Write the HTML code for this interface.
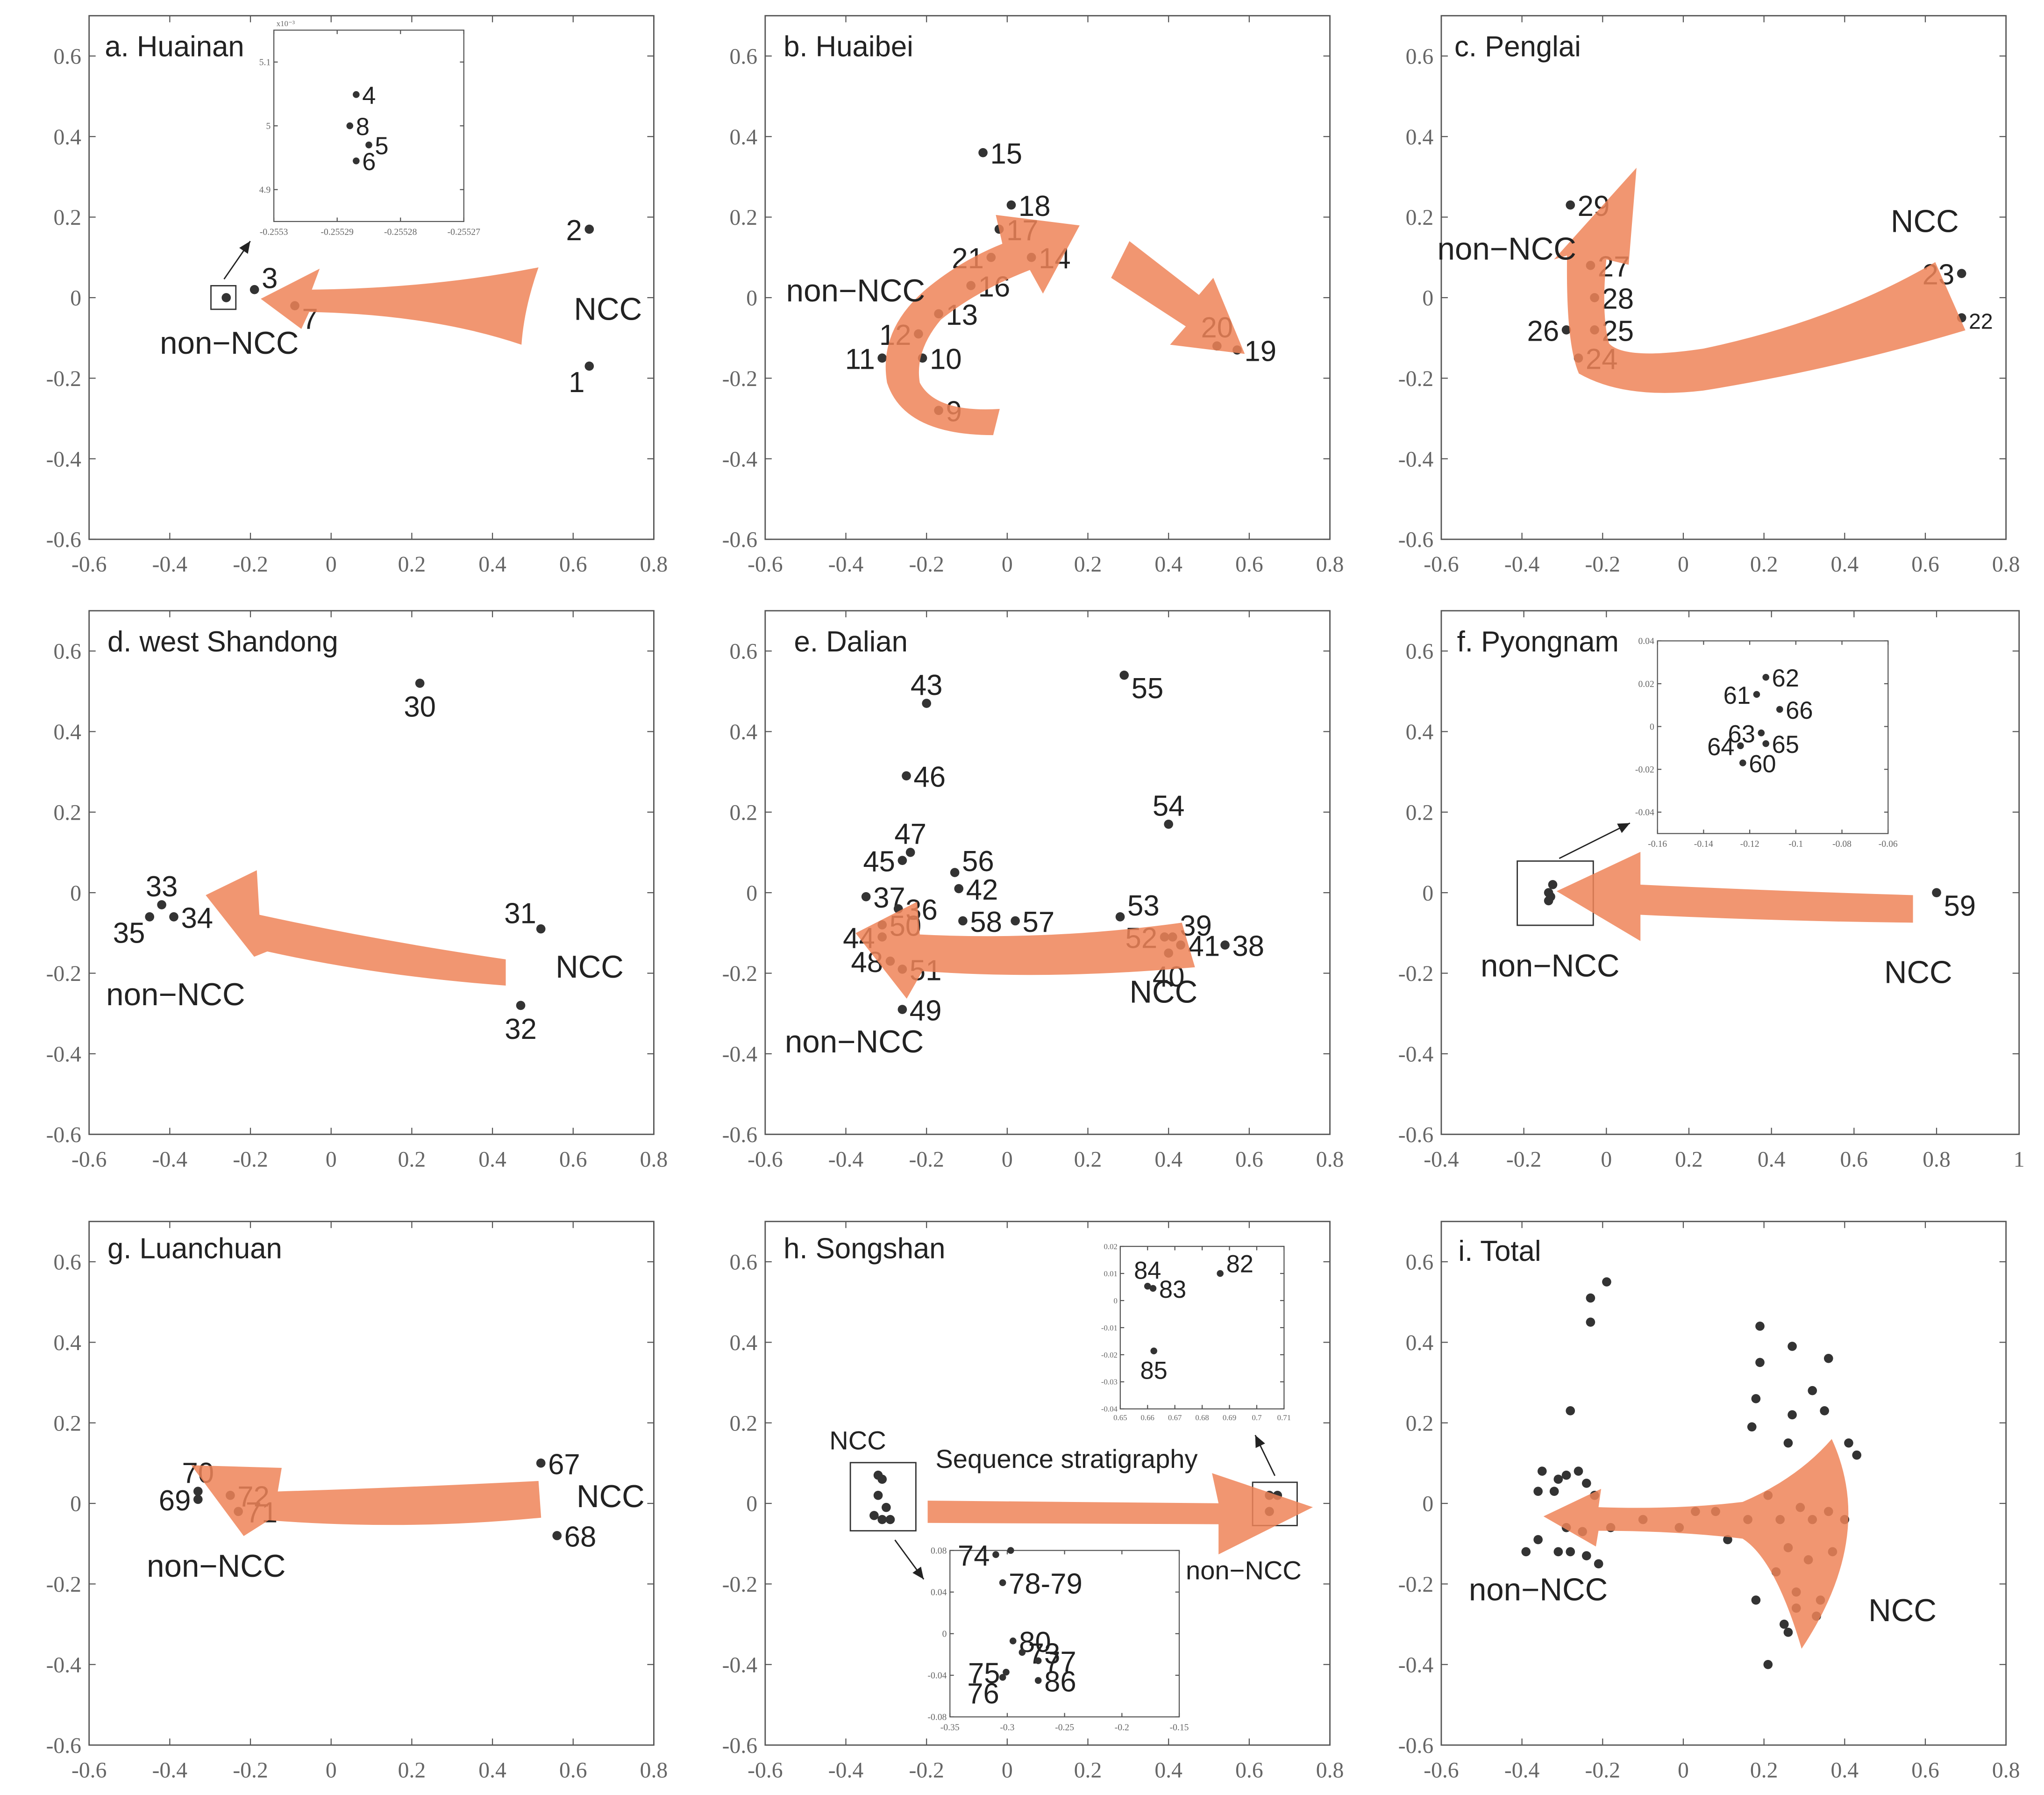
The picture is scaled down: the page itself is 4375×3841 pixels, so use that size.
<!DOCTYPE html>
<html><head><meta charset="utf-8"><style>
html,body{margin:0;padding:0;background:#fff;}
svg{display:block;}
text{font-family:"Liberation Sans",sans-serif;}
.tk{font-family:"Liberation Serif",serif;fill:#666;}
</style></head><body>
<svg id="fig" xmlns="http://www.w3.org/2000/svg" width="4375" height="3841" viewBox="0 0 1560 1369.6" preserveAspectRatio="none"></svg>
<script>
// ---------- DATA ----------
const mainXTicks=[-0.6,-0.4,-0.2,0,0.2,0.4,0.6,0.8];
const mainXTickLabels=["-0.6","-0.4","-0.2","0","0.2","0.4","0.6","0.8"];
const fXTicks=[-0.4,-0.2,0,0.2,0.4,0.6,0.8,1];
const fXTickLabels=["-0.4","-0.2","0","0.2","0.4","0.6","0.8","1"];
const mainYTicks=[-0.6,-0.4,-0.2,0,0.2,0.4,0.6];
const mainYTickLabels=["-0.6","-0.4","-0.2","0","0.2","0.4","0.6"];

const aIds=["1","2","3","7",""];
const aX=[0.64,0.64,-0.19,-0.09,-0.26];
const aY=[-0.17,0.17,0.02,-0.02,0.0];
const aSide=["lb","l","ru","rb","r"];
const aInIds=["4","8","5","6"];
const aInX=[-0.255287,-0.255288,-0.255285,-0.255287];
const aInY=[5.049,5.0,4.97,4.945];
const aInXTicks=[-0.2553,-0.25529,-0.25528,-0.25527];
const aInXTickLabels=["-0.2553","-0.25529","-0.25528","-0.25527"];
const aInYTicks=[4.9,5.0,5.1];
const aInYTickLabels=["4.9","5","5.1"];

const bIds=["15","18","17","21","14","16","13","12","11","10","9","20","19"];
const bX=[-0.06,0.01,-0.02,-0.04,0.06,-0.09,-0.17,-0.22,-0.31,-0.21,-0.17,0.52,0.57];
const bY=[0.36,0.23,0.17,0.10,0.10,0.03,-0.04,-0.09,-0.15,-0.15,-0.28,-0.12,-0.13];
const bSide=["r","r","r","l","r","r","r","l","l","r","r","t","r"];

const cIds=["29","27","28","26","25","24","23","22"];
const cX=[-0.28,-0.23,-0.22,-0.29,-0.22,-0.26,0.69,0.69];
const cY=[0.23,0.08,0.0,-0.08,-0.08,-0.15,0.06,-0.05];
const cSide=["r","r","r","l","r","r","l","rs"];

const dIds=["30","33","35","34","31","32"];
const dX=[0.22,-0.42,-0.45,-0.39,0.52,0.47];
const dY=[0.52,-0.03,-0.06,-0.06,-0.09,-0.28];
const dSide=["b","t","lb","r","lu","b"];

const eIds=["43","55","46","54","47","45","56","42","37","36","50","58","57","53","39","52","41","40","38","44","48","51","49"];
const eX=[-0.20,0.29,-0.25,0.40,-0.24,-0.26,-0.13,-0.12,-0.35,-0.27,-0.31,-0.11,0.02,0.28,0.41,0.39,0.43,0.40,0.54,-0.31,-0.29,-0.26,-0.26];
const eY=[0.47,0.54,0.29,0.17,0.10,0.08,0.05,0.01,-0.01,-0.04,-0.08,-0.07,-0.07,-0.06,-0.11,-0.11,-0.13,-0.15,-0.13,-0.11,-0.17,-0.19,-0.29];
const eSide=["t","rb","r","t","t","l","ru","r","r","r","r","r","r","ru","ru","l","r","b","r","l","l","r","r"];

const fIds=["59"];
const fX=[0.80];
const fY=[0.0];
const fSide=["rb"];
const fClX=[-0.14,-0.13,-0.135,-0.14];
const fClY=[0.0,0.02,-0.01,-0.02];
const fInIds=["62","61","66","63","65","64","60"];
const fInX=[-0.113,-0.117,-0.107,-0.115,-0.113,-0.124,-0.123];
const fInY=[0.023,0.015,0.008,-0.003,-0.008,-0.009,-0.017];
const fInXTicks=[-0.16,-0.14,-0.12,-0.1,-0.08,-0.06];
const fInXTickLabels=["-0.16","-0.14","-0.12","-0.1","-0.08","-0.06"];
const fInYTicks=[-0.04,-0.02,0,0.02,0.04];
const fInYTickLabels=["-0.04","-0.02","0","0.02","0.04"];

const gIds=["67","68","70","69","72","71"];
const gX=[0.52,0.56,-0.33,-0.33,-0.25,-0.23];
const gY=[0.10,-0.08,0.03,0.01,0.02,-0.02];
const gSide=["r","r","t","l","r","r"];

const hNccX=[-0.32,-0.31,-0.32,-0.30,-0.31,-0.29,-0.33];
const hNccY=[0.07,0.06,0.02,-0.01,-0.04,-0.04,-0.03];
const hNonX=[0.65,0.67,0.65];
const hNonY=[0.02,0.02,-0.02];
const hTopIds=["82","84","83","85"];
const hTopX=[0.6866,0.66,0.662,0.6623];
const hTopY=[0.01,0.0053,0.0045,-0.0186];
const hTopSide=["ru","t","r","b"];
const hTopXTicks=[0.65,0.66,0.67,0.68,0.69,0.7,0.71];
const hTopXTickLabels=["0.65","0.66","0.67","0.68","0.69","0.7","0.71"];
const hTopYTicks=[-0.04,-0.03,-0.02,-0.01,0,0.01,0.02];
const hTopYTickLabels=["-0.04","-0.03","-0.02","-0.01","0","0.01","0.02"];
const hBotIds=["74","","78-79","80","73","77","75","76","86"];
const hBotX=[-0.310,-0.297,-0.304,-0.295,-0.287,-0.273,-0.301,-0.304,-0.273];
const hBotY=[0.076,0.08,0.049,-0.007,-0.018,-0.026,-0.037,-0.042,-0.045];
const hBotSide=["l","r","r","r","r","r","l","lb","r"];
const hBotXTicks=[-0.35,-0.3,-0.25,-0.2,-0.15];
const hBotXTickLabels=["-0.35","-0.3","-0.25","-0.2","-0.15"];
const hBotYTicks=[-0.08,-0.04,0,0.04,0.08];
const hBotYTickLabels=["-0.08","-0.04","0","0.04","0.08"];

const iX=[-0.23,-0.23,-0.19,0.19,0.27,0.19,0.36,0.32,0.18,0.35,0.27,0.17,0.41,0.43,0.26,
-0.35,-0.31,-0.29,-0.26,-0.24,-0.36,-0.32,-0.28,-0.22,-0.39,-0.36,-0.31,-0.28,-0.24,-0.21,-0.29,-0.25,
-0.18,-0.10,-0.01,0.03,0.08,0.11,0.16,0.21,0.24,0.29,0.32,0.36,0.26,0.31,0.37,0.23,0.28,0.34,0.33,0.26,0.25,0.40,0.21,0.28,0.18];
const iY=[0.51,0.45,0.55,0.44,0.39,0.35,0.36,0.28,0.26,0.23,0.22,0.19,0.15,0.12,0.15,
0.08,0.06,0.07,0.08,0.05,0.03,0.03,0.23,0.02,-0.12,-0.09,-0.12,-0.12,-0.13,-0.15,-0.06,-0.07,
-0.06,-0.04,-0.06,-0.02,-0.02,-0.09,-0.04,0.02,-0.04,-0.01,-0.04,-0.02,-0.11,-0.14,-0.12,-0.17,-0.22,-0.24,-0.28,-0.32,-0.30,-0.04,-0.40,-0.26,-0.24];

// ---------- DRAWING ----------
const NS="http://www.w3.org/2000/svg";
const svg=document.getElementById('fig');
function mk(tag,attrs,parent){const e=document.createElementNS(NS,tag);for(const k in attrs)e.setAttribute(k,attrs[k]);(parent||svg).appendChild(e);return e;}
function txt(s,x,y,fs,parent,anchor,cls,fill){const t=mk('text',{x:x,y:y,'font-size':fs,'text-anchor':anchor||'start',fill:fill||'#222'},parent);if(cls)t.setAttribute('class',cls);t.textContent=s;return t;}

function axes(name,c){
  const g=mk('g',{});
  
  
  const sx=v=>c.bx0+(v-c.x0)/(c.x1-c.x0)*(c.bx1-c.bx0);
  const sy=v=>c.by1-(v-c.y0)/(c.y1-c.y0)*(c.by1-c.by0);
  const r=mk('rect',{x:c.bx0,y:c.by0,width:c.bx1-c.bx0,height:c.by1-c.by0,fill:'#fff',stroke:'#555','stroke-width':c.sw||1},g);
  
  
  const tl=c.tl||5;
  c.xt.forEach((v,i)=>{const x=sx(v);
    mk('line',{x1:x,x2:x,y1:c.by1,y2:c.by1-tl,stroke:'#555','stroke-width':0.8},g);
    mk('line',{x1:x,x2:x,y1:c.by0,y2:c.by0+tl,stroke:'#555','stroke-width':0.8},g);
    const t=txt(c.xl[i],x,c.by1+c.fs*1.45,c.fs,g,'middle','tk');
    
    
  });
  c.yt.forEach((v,i)=>{const y=sy(v);
    mk('line',{x1:c.bx0,x2:c.bx0+tl,y1:y,y2:y,stroke:'#555','stroke-width':0.8},g);
    mk('line',{x1:c.bx1,x2:c.bx1-tl,y1:y,y2:y,stroke:'#555','stroke-width':0.8},g);
    const t=txt(c.yl[i],c.bx0-c.fs*0.35,y+c.fs*0.35,c.fs,g,'end','tk');
    
    
  });
  return {sx,sy,g};
}
function points(ax,ids,xs,ys,sides,fs,r,name){
  xs.forEach((xv,i)=>{
    const x=ax.sx(xv),y=ax.sy(ys[i]);
    const c=mk('circle',{cx:x,cy:y,r:r,fill:'#333'},ax.g);
    
    
    if(!ids||!ids[i])return;
    const s=sides[i];let tx=x+r+2,ty=y+fs*0.38,an='start',f=fs;
    if(s==='l'){tx=x-r-2;an='end';}
    if(s==='lb'){tx=x-r;an='end';ty=y+fs*0.9;}
    if(s==='lu'){tx=x-r;an='end';ty=y-fs*0.2;}
    if(s==='t'){tx=x;an='middle';ty=y-r-3;}
    if(s==='b'){tx=x;an='middle';ty=y+fs+r;}
    if(s==='ru'){ty=y-fs*0.05;}
    if(s==='rb'){ty=y+fs*0.8;}
    if(s==='rs'){f=fs*0.75;}
    const t=txt(ids[i],tx,ty,f,ax.g,an);
    
    
  });
}
function arrow(d,name){const p=mk('path',{d:d,fill:'#ee8458','fill-opacity':0.85,stroke:'none'});
  
  }
function label(s,x,y,fs,name){const t=txt(s,x,y,fs,svg,'start');
  
  }
function pointer(x1,y1,x2,y2,name){
  const g=mk('g',{});
  
  
  mk('line',{x1:x1,y1:y1,x2:x2,y2:y2,stroke:'#222','stroke-width':1},g);
  const a=Math.atan2(y2-y1,x2-x1),L=9,W=4;
  const bx=x2-L*Math.cos(a),by=y2-L*Math.sin(a);
  mk('polygon',{points:`${x2},${y2} ${bx-W*Math.sin(a)},${by+W*Math.cos(a)} ${bx+W*Math.sin(a)},${by-W*Math.cos(a)}`,fill:'#222'},g);
}
function smallBox(x,y,w,h,name){const r=mk('rect',{x:x,y:y,width:w,height:h,fill:'none',stroke:'#333','stroke-width':1});
  
  }

const cols=[[68,499],[584,1015],[1100,1531]];
const rows=[[12,411.5],[466,865.5],[932,1331.5]];
function mainAx(name,ci,ri,f){
  return axes(name,{bx0:cols[ci][0],bx1:f?1541:cols[ci][1],by0:rows[ri][0],by1:rows[ri][1],
    x0:f?-0.4:-0.6,x1:f?1:0.8,y0:-0.6,y1:0.7,xt:f?fXTicks:mainXTicks,xl:f?fXTickLabels:mainXTickLabels,
    yt:mainYTicks,yl:mainYTickLabels,fs:17,tl:5});
}
const FS=22;
// a
const A=mainAx('panel-a-huainan',0,0);
points(A,aIds,aX,aY,aSide,FS,3.5,'a');
smallBox(161,218,19,18,'inset-marker-box');
const AI=axes('inset-a',{bx0:209,bx1:354,by0:23,by1:169,x0:-0.2553,x1:-0.25527,y0:4.85,y1:5.15,xt:aInXTicks,xl:aInXTickLabels,yt:aInYTicks,yl:aInYTickLabels,fs:7,tl:3,sw:0.8});
points(AI,aInIds,aInX,aInY,aInIds.map(()=>"r"),FS*0.85,2.6,'a-inset');
txt('x10⁻³',211,20,6,svg,'start','tk');
pointer(171,213,191,184,'inset-pointer');
// b
const B=mainAx('panel-b-huaibei',1,0);
points(B,bIds,bX,bY,bSide,FS,3.5,'b');
// c
const C=mainAx('panel-c-penglai',2,0);
points(C,cIds,cX,cY,cSide,FS,3.5,'c');
// d
const D=mainAx('panel-d-west-shandong',0,1);
points(D,dIds,dX,dY,dSide,FS,3.5,'d');
// e
const E=mainAx('panel-e-dalian',1,1);
points(E,eIds,eX,eY,eSide,FS,3.5,'e');
// f
const F=mainAx('panel-f-pyongnam',2,1,true);
points(F,fIds,fX,fY,fSide,FS,3.5,'f');
points(F,null,fClX,fClY,[],FS,3.5,'f-cluster');
smallBox(1158,657,58,49,'inset-marker-box');
const FI=axes('inset-f',{bx0:1265,bx1:1441,by0:489,by1:636,x0:-0.16,x1:-0.06,y0:-0.05,y1:0.04,xt:fInXTicks,xl:fInXTickLabels,yt:fInYTicks,yl:fInYTickLabels,fs:7,tl:3,sw:0.8});
points(FI,fInIds,fInX,fInY,["r","l","r","l","r","l","r"],FS*0.85,2.6,'f-inset');
pointer(1190,655,1244,628,'inset-pointer');
// g
const G=mainAx('panel-g-luanchuan',0,2);
points(G,gIds,gX,gY,gSide,FS,3.5,'g');
// h
const H=mainAx('panel-h-songshan',1,2);
points(H,null,hNccX,hNccY,[],FS,3.5,'h-ncc');
points(H,null,hNonX,hNonY,[],FS,3.5,'h-non-ncc');
smallBox(649,1116,50,52,'inset-marker-box');
smallBox(956,1131,34,33,'inset-marker-box');
const HT=axes('inset-h-top',{bx0:855,bx1:980,by0:951,by1:1075,x0:0.65,x1:0.71,y0:-0.04,y1:0.02,xt:hTopXTicks,xl:hTopXTickLabels,yt:hTopYTicks,yl:hTopYTickLabels,fs:6,tl:3,sw:0.8});
points(HT,hTopIds,hTopX,hTopY,hTopSide,FS*0.85,2.6,'h-top-inset');
const HB=axes('inset-h-bottom',{bx0:725,bx1:900,by0:1183,by1:1310,x0:-0.35,x1:-0.15,y0:-0.08,y1:0.08,xt:hBotXTicks,xl:hBotXTickLabels,yt:hBotYTicks,yl:hBotYTickLabels,fs:7,tl:3,sw:0.8});
points(HB,hBotIds,hBotX,hBotY,hBotSide,FS,2.6,'h-bottom-inset');
pointer(973,1126,958,1095,'inset-pointer');
pointer(683,1175,705,1205,'inset-pointer');
// i
const I=mainAx('panel-i-total',2,2);
points(I,null,iX,iY,[],FS,3.5,'i');

// arrows (overlay)
arrow("M199,228 L244,205 L238,221 Q330,220 411,204 Q400,235 398,263 Q330,240 236,238 L230,251 Z","arrow-a");
arrow("M763,312 L758,332 Q690,332 677,292 Q670,250 710,218 Q735,198 765,186 L760,164 L824,172 L796,224 L786,206 Q745,222 718,244 Q698,268 702,292 Q714,315 763,312 Z","arrow-b-curved");
arrow("M862,184 L915,225 L926,212 L950,270 L893,263 L905,249 L848,212 Z","arrow-b-straight");
arrow("M1477,200 Q1400,245 1300,266 Q1240,275 1228,262 Q1222,240 1226,198 L1243,202 L1249,128 L1186,198 L1196,195 Q1195,262 1205,285 Q1240,305 1300,298 Q1400,282 1500,252 Z","arrow-c");
arrow("M157,683 L196,664 L198,698 Q290,718 386,732 L386,752 Q290,745 204,726 L194,730 Z","arrow-d");
arrow("M653,712 L700,688 L702,713 Q800,718 902,704 L912,738 Q800,748 704,741 L692,762 Z","arrow-e");
arrow("M1188,680 L1252,650 L1252,675 Q1360,680 1460,683 L1460,704 Q1360,703 1252,698 L1252,718 Z","arrow-f");
arrow("M146,1118 L215,1120 L212,1138 Q310,1135 411,1130 L413,1158 Q310,1168 205,1160 L186,1172 Z","arrow-g");
arrow("M708,1145 L930,1147 L925,1124 L1002,1150 L930,1186 L930,1163 L708,1162 Z","arrow-h");
arrow("M1178,1157 L1222,1136 L1220,1150 Q1280,1152 1330,1146 Q1372,1128 1398,1098 Q1432,1172 1375,1258 Q1355,1190 1330,1174 Q1280,1168 1220,1168 L1218,1180 Z","arrow-i");

// titles and region labels
[["a. Huainan",80,43],["b. Huaibei",598,43],["c. Penglai",1110,43],["d. west Shandong",82,497],["e. Dalian",606,497],["f. Pyongnam",1112,497],["g. Luanchuan",82,960],["h. Songshan",598,960],["i. Total",1113,962]].forEach(t=>{
  const e=txt(t[0],t[1],t[2],22,svg,'start');
  
  
});
const L=24;
label("NCC",438,244,L,'ncc-label');label("non−NCC",122,270,L,'non-ncc-label');
label("non−NCC",600,230,L,'non-ncc-label');
label("NCC",1443,177,L,'ncc-label');label("non−NCC",1097,198,L,'non-ncc-label');
label("NCC",424,746,L,'ncc-label');label("non−NCC",81,767,L,'non-ncc-label');
label("NCC",862,765,L,'ncc-label');label("non−NCC",599,803,L,'non-ncc-label');
label("non−NCC",1130,745,L,'non-ncc-label');label("NCC",1438,750,L,'ncc-label');
label("NCC",440,1150,L,'ncc-label');label("non−NCC",112,1203,L,'non-ncc-label');
label("NCC",633,1106,20,'ncc-label');label("non−NCC",905,1205,20,'non-ncc-label');
label("Sequence stratigraphy",714,1120,20,'sequence-stratigraphy-label');
label("non−NCC",1121,1221,L,'non-ncc-label');label("NCC",1426,1237,L,'ncc-label');
</script>
</body></html>
